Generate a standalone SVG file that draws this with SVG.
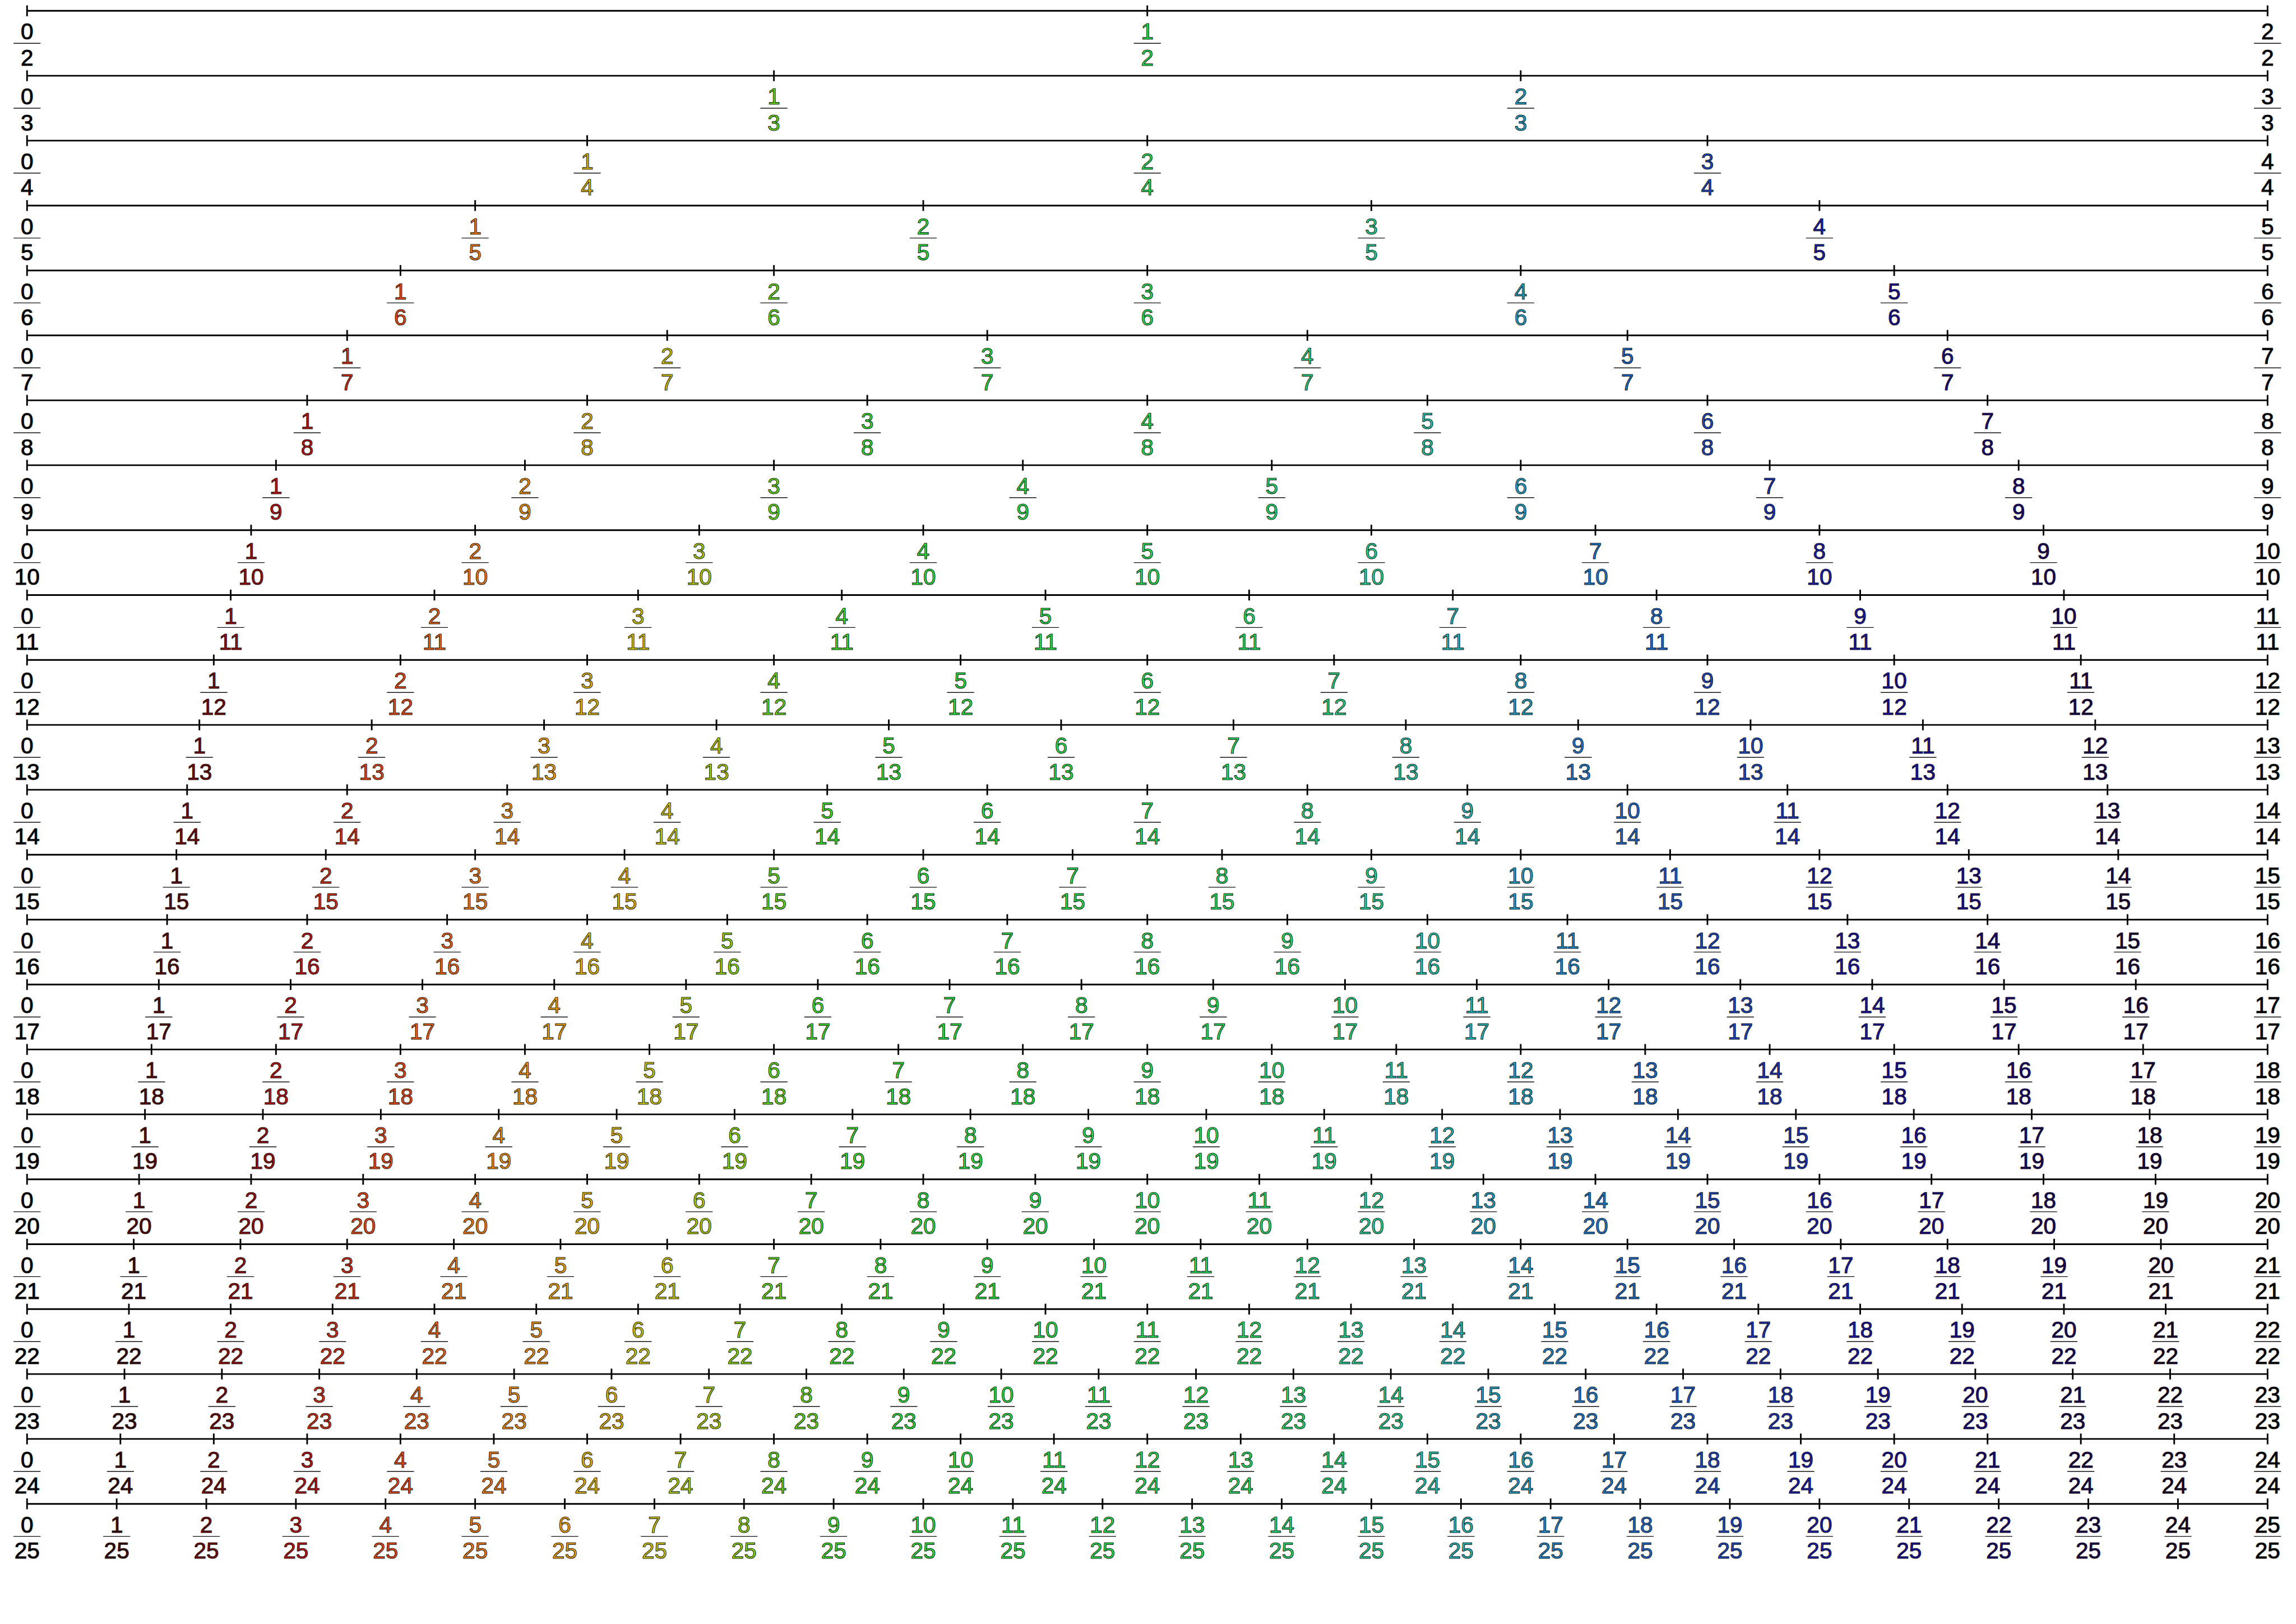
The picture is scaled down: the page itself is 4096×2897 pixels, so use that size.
<svg xmlns="http://www.w3.org/2000/svg" width="4096" height="2897" viewBox="0 0 4096 2897">
<style>
text{font-family:"Liberation Sans",Arial,sans-serif;font-size:42px;text-anchor:middle;stroke:#000;stroke-width:1.2;stroke-opacity:.85}
.ax{stroke:#000;stroke-width:3}
.c0{fill:#000}.c1{fill:#1e0505}.c2{fill:#3c0a0a}.c3{fill:#5a0a0a}.c4{fill:#780a0a}.c5{fill:#9c0f0f}.c6{fill:#c01414}.c7{fill:#d82f14}.c8{fill:#f04a14}.c9{fill:#f26414}
.c10{fill:#f57d14}.c11{fill:#f5910f}.c12{fill:#f5a50a}.c13{fill:#e4b90a}.c14{fill:#d2cd0a}.c15{fill:#afd40a}.c16{fill:#8cdc0a}.c17{fill:#64e119}.c18{fill:#3ce628}.c19{fill:#32e632}
.c20{fill:#28e63c}.c21{fill:#26e641}.c22{fill:#23e646}.c23{fill:#23e64b}.c24{fill:#23e650}.c25{fill:#23e655}.c26{fill:#23e65a}.c27{fill:#23e464}.c28{fill:#23e16e}.c29{fill:#23dc82}
.c30{fill:#23d796}.c31{fill:#23cbaa}.c32{fill:#23bebe}.c33{fill:#21a5c8}.c34{fill:#1e8cd2}.c35{fill:#1e7dd2}.c36{fill:#1e6ed2}.c37{fill:#1e5dcb}.c38{fill:#1e4bc3}.c39{fill:#1e35b9}
.c40{fill:#1e1eaf}.c41{fill:#1e17a5}.c42{fill:#1e0f9b}.c43{fill:#1e0a8a}.c44{fill:#1e0578}.c45{fill:#1e0564}.c46{fill:#1e0550}.c47{fill:#1e053c}.c48{fill:#1e0528}.c49{fill:#0f0314}.c50{fill:#000}
</style>
<defs>
<g id="m"><line x1="0" y1="-10" x2="0" y2="10" stroke="#000" stroke-width="3"/><line x1="-25" y1="60" x2="25" y2="60" stroke="#111" stroke-width="1.5"/></g>
</defs>
<rect width="4096" height="2897" fill="#fff"/>
<g transform="scale(0.965)">
<g id="axes">
<line class="ax" x1="50" y1="20" x2="4192" y2="20"/>
<line class="ax" x1="50" y1="140" x2="4192" y2="140"/>
<line class="ax" x1="50" y1="260" x2="4192" y2="260"/>
<line class="ax" x1="50" y1="380" x2="4192" y2="380"/>
<line class="ax" x1="50" y1="500" x2="4192" y2="500"/>
<line class="ax" x1="50" y1="620" x2="4192" y2="620"/>
<line class="ax" x1="50" y1="740" x2="4192" y2="740"/>
<line class="ax" x1="50" y1="860" x2="4192" y2="860"/>
<line class="ax" x1="50" y1="980" x2="4192" y2="980"/>
<line class="ax" x1="50" y1="1100" x2="4192" y2="1100"/>
<line class="ax" x1="50" y1="1220" x2="4192" y2="1220"/>
<line class="ax" x1="50" y1="1340" x2="4192" y2="1340"/>
<line class="ax" x1="50" y1="1460" x2="4192" y2="1460"/>
<line class="ax" x1="50" y1="1580" x2="4192" y2="1580"/>
<line class="ax" x1="50" y1="1700" x2="4192" y2="1700"/>
<line class="ax" x1="50" y1="1820" x2="4192" y2="1820"/>
<line class="ax" x1="50" y1="1940" x2="4192" y2="1940"/>
<line class="ax" x1="50" y1="2060" x2="4192" y2="2060"/>
<line class="ax" x1="50" y1="2180" x2="4192" y2="2180"/>
<line class="ax" x1="50" y1="2300" x2="4192" y2="2300"/>
<line class="ax" x1="50" y1="2420" x2="4192" y2="2420"/>
<line class="ax" x1="50" y1="2540" x2="4192" y2="2540"/>
<line class="ax" x1="50" y1="2660" x2="4192" y2="2660"/>
<line class="ax" x1="50" y1="2780" x2="4192" y2="2780"/>
</g>
<g id="row-2" transform="translate(0,20)">
<g class="c0" transform="translate(50)"><use href="#m"/><text y="53">0</text><text y="101">2</text></g>
<g class="c25" transform="translate(2121)"><use href="#m"/><text y="53">1</text><text y="101">2</text></g>
<g class="c50" transform="translate(4192)"><use href="#m"/><text y="53">2</text><text y="101">2</text></g>
</g>
<g id="row-3" transform="translate(0,140)">
<g class="c0" transform="translate(50)"><use href="#m"/><text y="53">0</text><text y="101">3</text></g>
<g class="c17" transform="translate(1430.7)"><use href="#m"/><text y="53">1</text><text y="101">3</text></g>
<g class="c33" transform="translate(2811.3)"><use href="#m"/><text y="53">2</text><text y="101">3</text></g>
<g class="c50" transform="translate(4192)"><use href="#m"/><text y="53">3</text><text y="101">3</text></g>
</g>
<g id="row-4" transform="translate(0,260)">
<g class="c0" transform="translate(50)"><use href="#m"/><text y="53">0</text><text y="101">4</text></g>
<g class="c13" transform="translate(1085.5)"><use href="#m"/><text y="53">1</text><text y="101">4</text></g>
<g class="c25" transform="translate(2121)"><use href="#m"/><text y="53">2</text><text y="101">4</text></g>
<g class="c38" transform="translate(3156.5)"><use href="#m"/><text y="53">3</text><text y="101">4</text></g>
<g class="c50" transform="translate(4192)"><use href="#m"/><text y="53">4</text><text y="101">4</text></g>
</g>
<g id="row-5" transform="translate(0,380)">
<g class="c0" transform="translate(50)"><use href="#m"/><text y="53">0</text><text y="101">5</text></g>
<g class="c10" transform="translate(878.4)"><use href="#m"/><text y="53">1</text><text y="101">5</text></g>
<g class="c20" transform="translate(1706.8)"><use href="#m"/><text y="53">2</text><text y="101">5</text></g>
<g class="c30" transform="translate(2535.2)"><use href="#m"/><text y="53">3</text><text y="101">5</text></g>
<g class="c40" transform="translate(3363.6)"><use href="#m"/><text y="53">4</text><text y="101">5</text></g>
<g class="c50" transform="translate(4192)"><use href="#m"/><text y="53">5</text><text y="101">5</text></g>
</g>
<g id="row-6" transform="translate(0,500)">
<g class="c0" transform="translate(50)"><use href="#m"/><text y="53">0</text><text y="101">6</text></g>
<g class="c8" transform="translate(740.3)"><use href="#m"/><text y="53">1</text><text y="101">6</text></g>
<g class="c17" transform="translate(1430.7)"><use href="#m"/><text y="53">2</text><text y="101">6</text></g>
<g class="c25" transform="translate(2121)"><use href="#m"/><text y="53">3</text><text y="101">6</text></g>
<g class="c33" transform="translate(2811.3)"><use href="#m"/><text y="53">4</text><text y="101">6</text></g>
<g class="c42" transform="translate(3501.7)"><use href="#m"/><text y="53">5</text><text y="101">6</text></g>
<g class="c50" transform="translate(4192)"><use href="#m"/><text y="53">6</text><text y="101">6</text></g>
</g>
<g id="row-7" transform="translate(0,620)">
<g class="c0" transform="translate(50)"><use href="#m"/><text y="53">0</text><text y="101">7</text></g>
<g class="c7" transform="translate(641.7)"><use href="#m"/><text y="53">1</text><text y="101">7</text></g>
<g class="c14" transform="translate(1233.4)"><use href="#m"/><text y="53">2</text><text y="101">7</text></g>
<g class="c21" transform="translate(1825.1)"><use href="#m"/><text y="53">3</text><text y="101">7</text></g>
<g class="c29" transform="translate(2416.9)"><use href="#m"/><text y="53">4</text><text y="101">7</text></g>
<g class="c36" transform="translate(3008.6)"><use href="#m"/><text y="53">5</text><text y="101">7</text></g>
<g class="c43" transform="translate(3600.3)"><use href="#m"/><text y="53">6</text><text y="101">7</text></g>
<g class="c50" transform="translate(4192)"><use href="#m"/><text y="53">7</text><text y="101">7</text></g>
</g>
<g id="row-8" transform="translate(0,740)">
<g class="c0" transform="translate(50)"><use href="#m"/><text y="53">0</text><text y="101">8</text></g>
<g class="c6" transform="translate(567.8)"><use href="#m"/><text y="53">1</text><text y="101">8</text></g>
<g class="c13" transform="translate(1085.5)"><use href="#m"/><text y="53">2</text><text y="101">8</text></g>
<g class="c19" transform="translate(1603.3)"><use href="#m"/><text y="53">3</text><text y="101">8</text></g>
<g class="c25" transform="translate(2121)"><use href="#m"/><text y="53">4</text><text y="101">8</text></g>
<g class="c31" transform="translate(2638.8)"><use href="#m"/><text y="53">5</text><text y="101">8</text></g>
<g class="c38" transform="translate(3156.5)"><use href="#m"/><text y="53">6</text><text y="101">8</text></g>
<g class="c44" transform="translate(3674.3)"><use href="#m"/><text y="53">7</text><text y="101">8</text></g>
<g class="c50" transform="translate(4192)"><use href="#m"/><text y="53">8</text><text y="101">8</text></g>
</g>
<g id="row-9" transform="translate(0,860)">
<g class="c0" transform="translate(50)"><use href="#m"/><text y="53">0</text><text y="101">9</text></g>
<g class="c6" transform="translate(510.2)"><use href="#m"/><text y="53">1</text><text y="101">9</text></g>
<g class="c11" transform="translate(970.4)"><use href="#m"/><text y="53">2</text><text y="101">9</text></g>
<g class="c17" transform="translate(1430.7)"><use href="#m"/><text y="53">3</text><text y="101">9</text></g>
<g class="c22" transform="translate(1890.9)"><use href="#m"/><text y="53">4</text><text y="101">9</text></g>
<g class="c28" transform="translate(2351.1)"><use href="#m"/><text y="53">5</text><text y="101">9</text></g>
<g class="c33" transform="translate(2811.3)"><use href="#m"/><text y="53">6</text><text y="101">9</text></g>
<g class="c39" transform="translate(3271.6)"><use href="#m"/><text y="53">7</text><text y="101">9</text></g>
<g class="c44" transform="translate(3731.8)"><use href="#m"/><text y="53">8</text><text y="101">9</text></g>
<g class="c50" transform="translate(4192)"><use href="#m"/><text y="53">9</text><text y="101">9</text></g>
</g>
<g id="row-10" transform="translate(0,980)">
<g class="c0" transform="translate(50)"><use href="#m"/><text y="53">0</text><text y="101">10</text></g>
<g class="c5" transform="translate(464.2)"><use href="#m"/><text y="53">1</text><text y="101">10</text></g>
<g class="c10" transform="translate(878.4)"><use href="#m"/><text y="53">2</text><text y="101">10</text></g>
<g class="c15" transform="translate(1292.6)"><use href="#m"/><text y="53">3</text><text y="101">10</text></g>
<g class="c20" transform="translate(1706.8)"><use href="#m"/><text y="53">4</text><text y="101">10</text></g>
<g class="c25" transform="translate(2121)"><use href="#m"/><text y="53">5</text><text y="101">10</text></g>
<g class="c30" transform="translate(2535.2)"><use href="#m"/><text y="53">6</text><text y="101">10</text></g>
<g class="c35" transform="translate(2949.4)"><use href="#m"/><text y="53">7</text><text y="101">10</text></g>
<g class="c40" transform="translate(3363.6)"><use href="#m"/><text y="53">8</text><text y="101">10</text></g>
<g class="c45" transform="translate(3777.8)"><use href="#m"/><text y="53">9</text><text y="101">10</text></g>
<g class="c50" transform="translate(4192)"><use href="#m"/><text y="53">10</text><text y="101">10</text></g>
</g>
<g id="row-11" transform="translate(0,1100)">
<g class="c0" transform="translate(50)"><use href="#m"/><text y="53">0</text><text y="101">11</text></g>
<g class="c5" transform="translate(426.5)"><use href="#m"/><text y="53">1</text><text y="101">11</text></g>
<g class="c9" transform="translate(803.1)"><use href="#m"/><text y="53">2</text><text y="101">11</text></g>
<g class="c14" transform="translate(1179.6)"><use href="#m"/><text y="53">3</text><text y="101">11</text></g>
<g class="c18" transform="translate(1556.2)"><use href="#m"/><text y="53">4</text><text y="101">11</text></g>
<g class="c23" transform="translate(1932.7)"><use href="#m"/><text y="53">5</text><text y="101">11</text></g>
<g class="c27" transform="translate(2309.3)"><use href="#m"/><text y="53">6</text><text y="101">11</text></g>
<g class="c32" transform="translate(2685.8)"><use href="#m"/><text y="53">7</text><text y="101">11</text></g>
<g class="c36" transform="translate(3062.4)"><use href="#m"/><text y="53">8</text><text y="101">11</text></g>
<g class="c41" transform="translate(3438.9)"><use href="#m"/><text y="53">9</text><text y="101">11</text></g>
<g class="c45" transform="translate(3815.5)"><use href="#m"/><text y="53">10</text><text y="101">11</text></g>
<g class="c50" transform="translate(4192)"><use href="#m"/><text y="53">11</text><text y="101">11</text></g>
</g>
<g id="row-12" transform="translate(0,1220)">
<g class="c0" transform="translate(50)"><use href="#m"/><text y="53">0</text><text y="101">12</text></g>
<g class="c4" transform="translate(395.2)"><use href="#m"/><text y="53">1</text><text y="101">12</text></g>
<g class="c8" transform="translate(740.3)"><use href="#m"/><text y="53">2</text><text y="101">12</text></g>
<g class="c13" transform="translate(1085.5)"><use href="#m"/><text y="53">3</text><text y="101">12</text></g>
<g class="c17" transform="translate(1430.7)"><use href="#m"/><text y="53">4</text><text y="101">12</text></g>
<g class="c21" transform="translate(1775.8)"><use href="#m"/><text y="53">5</text><text y="101">12</text></g>
<g class="c25" transform="translate(2121)"><use href="#m"/><text y="53">6</text><text y="101">12</text></g>
<g class="c29" transform="translate(2466.2)"><use href="#m"/><text y="53">7</text><text y="101">12</text></g>
<g class="c33" transform="translate(2811.3)"><use href="#m"/><text y="53">8</text><text y="101">12</text></g>
<g class="c38" transform="translate(3156.5)"><use href="#m"/><text y="53">9</text><text y="101">12</text></g>
<g class="c42" transform="translate(3501.7)"><use href="#m"/><text y="53">10</text><text y="101">12</text></g>
<g class="c46" transform="translate(3846.8)"><use href="#m"/><text y="53">11</text><text y="101">12</text></g>
<g class="c50" transform="translate(4192)"><use href="#m"/><text y="53">12</text><text y="101">12</text></g>
</g>
<g id="row-13" transform="translate(0,1340)">
<g class="c0" transform="translate(50)"><use href="#m"/><text y="53">0</text><text y="101">13</text></g>
<g class="c4" transform="translate(368.6)"><use href="#m"/><text y="53">1</text><text y="101">13</text></g>
<g class="c8" transform="translate(687.2)"><use href="#m"/><text y="53">2</text><text y="101">13</text></g>
<g class="c12" transform="translate(1005.8)"><use href="#m"/><text y="53">3</text><text y="101">13</text></g>
<g class="c15" transform="translate(1324.5)"><use href="#m"/><text y="53">4</text><text y="101">13</text></g>
<g class="c19" transform="translate(1643.1)"><use href="#m"/><text y="53">5</text><text y="101">13</text></g>
<g class="c23" transform="translate(1961.7)"><use href="#m"/><text y="53">6</text><text y="101">13</text></g>
<g class="c27" transform="translate(2280.3)"><use href="#m"/><text y="53">7</text><text y="101">13</text></g>
<g class="c31" transform="translate(2598.9)"><use href="#m"/><text y="53">8</text><text y="101">13</text></g>
<g class="c35" transform="translate(2917.5)"><use href="#m"/><text y="53">9</text><text y="101">13</text></g>
<g class="c38" transform="translate(3236.2)"><use href="#m"/><text y="53">10</text><text y="101">13</text></g>
<g class="c42" transform="translate(3554.8)"><use href="#m"/><text y="53">11</text><text y="101">13</text></g>
<g class="c46" transform="translate(3873.4)"><use href="#m"/><text y="53">12</text><text y="101">13</text></g>
<g class="c50" transform="translate(4192)"><use href="#m"/><text y="53">13</text><text y="101">13</text></g>
</g>
<g id="row-14" transform="translate(0,1460)">
<g class="c0" transform="translate(50)"><use href="#m"/><text y="53">0</text><text y="101">14</text></g>
<g class="c4" transform="translate(345.9)"><use href="#m"/><text y="53">1</text><text y="101">14</text></g>
<g class="c7" transform="translate(641.7)"><use href="#m"/><text y="53">2</text><text y="101">14</text></g>
<g class="c11" transform="translate(937.6)"><use href="#m"/><text y="53">3</text><text y="101">14</text></g>
<g class="c14" transform="translate(1233.4)"><use href="#m"/><text y="53">4</text><text y="101">14</text></g>
<g class="c18" transform="translate(1529.3)"><use href="#m"/><text y="53">5</text><text y="101">14</text></g>
<g class="c21" transform="translate(1825.1)"><use href="#m"/><text y="53">6</text><text y="101">14</text></g>
<g class="c25" transform="translate(2121)"><use href="#m"/><text y="53">7</text><text y="101">14</text></g>
<g class="c29" transform="translate(2416.9)"><use href="#m"/><text y="53">8</text><text y="101">14</text></g>
<g class="c32" transform="translate(2712.7)"><use href="#m"/><text y="53">9</text><text y="101">14</text></g>
<g class="c36" transform="translate(3008.6)"><use href="#m"/><text y="53">10</text><text y="101">14</text></g>
<g class="c39" transform="translate(3304.4)"><use href="#m"/><text y="53">11</text><text y="101">14</text></g>
<g class="c43" transform="translate(3600.3)"><use href="#m"/><text y="53">12</text><text y="101">14</text></g>
<g class="c46" transform="translate(3896.1)"><use href="#m"/><text y="53">13</text><text y="101">14</text></g>
<g class="c50" transform="translate(4192)"><use href="#m"/><text y="53">14</text><text y="101">14</text></g>
</g>
<g id="row-15" transform="translate(0,1580)">
<g class="c0" transform="translate(50)"><use href="#m"/><text y="53">0</text><text y="101">15</text></g>
<g class="c3" transform="translate(326.1)"><use href="#m"/><text y="53">1</text><text y="101">15</text></g>
<g class="c7" transform="translate(602.3)"><use href="#m"/><text y="53">2</text><text y="101">15</text></g>
<g class="c10" transform="translate(878.4)"><use href="#m"/><text y="53">3</text><text y="101">15</text></g>
<g class="c13" transform="translate(1154.5)"><use href="#m"/><text y="53">4</text><text y="101">15</text></g>
<g class="c17" transform="translate(1430.7)"><use href="#m"/><text y="53">5</text><text y="101">15</text></g>
<g class="c20" transform="translate(1706.8)"><use href="#m"/><text y="53">6</text><text y="101">15</text></g>
<g class="c23" transform="translate(1982.9)"><use href="#m"/><text y="53">7</text><text y="101">15</text></g>
<g class="c27" transform="translate(2259.1)"><use href="#m"/><text y="53">8</text><text y="101">15</text></g>
<g class="c30" transform="translate(2535.2)"><use href="#m"/><text y="53">9</text><text y="101">15</text></g>
<g class="c33" transform="translate(2811.3)"><use href="#m"/><text y="53">10</text><text y="101">15</text></g>
<g class="c37" transform="translate(3087.5)"><use href="#m"/><text y="53">11</text><text y="101">15</text></g>
<g class="c40" transform="translate(3363.6)"><use href="#m"/><text y="53">12</text><text y="101">15</text></g>
<g class="c43" transform="translate(3639.7)"><use href="#m"/><text y="53">13</text><text y="101">15</text></g>
<g class="c47" transform="translate(3915.9)"><use href="#m"/><text y="53">14</text><text y="101">15</text></g>
<g class="c50" transform="translate(4192)"><use href="#m"/><text y="53">15</text><text y="101">15</text></g>
</g>
<g id="row-16" transform="translate(0,1700)">
<g class="c0" transform="translate(50)"><use href="#m"/><text y="53">0</text><text y="101">16</text></g>
<g class="c3" transform="translate(308.9)"><use href="#m"/><text y="53">1</text><text y="101">16</text></g>
<g class="c6" transform="translate(567.8)"><use href="#m"/><text y="53">2</text><text y="101">16</text></g>
<g class="c9" transform="translate(826.6)"><use href="#m"/><text y="53">3</text><text y="101">16</text></g>
<g class="c13" transform="translate(1085.5)"><use href="#m"/><text y="53">4</text><text y="101">16</text></g>
<g class="c16" transform="translate(1344.4)"><use href="#m"/><text y="53">5</text><text y="101">16</text></g>
<g class="c19" transform="translate(1603.3)"><use href="#m"/><text y="53">6</text><text y="101">16</text></g>
<g class="c22" transform="translate(1862.1)"><use href="#m"/><text y="53">7</text><text y="101">16</text></g>
<g class="c25" transform="translate(2121)"><use href="#m"/><text y="53">8</text><text y="101">16</text></g>
<g class="c28" transform="translate(2379.9)"><use href="#m"/><text y="53">9</text><text y="101">16</text></g>
<g class="c31" transform="translate(2638.8)"><use href="#m"/><text y="53">10</text><text y="101">16</text></g>
<g class="c34" transform="translate(2897.6)"><use href="#m"/><text y="53">11</text><text y="101">16</text></g>
<g class="c38" transform="translate(3156.5)"><use href="#m"/><text y="53">12</text><text y="101">16</text></g>
<g class="c41" transform="translate(3415.4)"><use href="#m"/><text y="53">13</text><text y="101">16</text></g>
<g class="c44" transform="translate(3674.3)"><use href="#m"/><text y="53">14</text><text y="101">16</text></g>
<g class="c47" transform="translate(3933.1)"><use href="#m"/><text y="53">15</text><text y="101">16</text></g>
<g class="c50" transform="translate(4192)"><use href="#m"/><text y="53">16</text><text y="101">16</text></g>
</g>
<g id="row-17" transform="translate(0,1820)">
<g class="c0" transform="translate(50)"><use href="#m"/><text y="53">0</text><text y="101">17</text></g>
<g class="c3" transform="translate(293.6)"><use href="#m"/><text y="53">1</text><text y="101">17</text></g>
<g class="c6" transform="translate(537.3)"><use href="#m"/><text y="53">2</text><text y="101">17</text></g>
<g class="c9" transform="translate(780.9)"><use href="#m"/><text y="53">3</text><text y="101">17</text></g>
<g class="c12" transform="translate(1024.6)"><use href="#m"/><text y="53">4</text><text y="101">17</text></g>
<g class="c15" transform="translate(1268.2)"><use href="#m"/><text y="53">5</text><text y="101">17</text></g>
<g class="c18" transform="translate(1511.9)"><use href="#m"/><text y="53">6</text><text y="101">17</text></g>
<g class="c21" transform="translate(1755.5)"><use href="#m"/><text y="53">7</text><text y="101">17</text></g>
<g class="c24" transform="translate(1999.2)"><use href="#m"/><text y="53">8</text><text y="101">17</text></g>
<g class="c26" transform="translate(2242.8)"><use href="#m"/><text y="53">9</text><text y="101">17</text></g>
<g class="c29" transform="translate(2486.5)"><use href="#m"/><text y="53">10</text><text y="101">17</text></g>
<g class="c32" transform="translate(2730.1)"><use href="#m"/><text y="53">11</text><text y="101">17</text></g>
<g class="c35" transform="translate(2973.8)"><use href="#m"/><text y="53">12</text><text y="101">17</text></g>
<g class="c38" transform="translate(3217.4)"><use href="#m"/><text y="53">13</text><text y="101">17</text></g>
<g class="c41" transform="translate(3461.1)"><use href="#m"/><text y="53">14</text><text y="101">17</text></g>
<g class="c44" transform="translate(3704.7)"><use href="#m"/><text y="53">15</text><text y="101">17</text></g>
<g class="c47" transform="translate(3948.4)"><use href="#m"/><text y="53">16</text><text y="101">17</text></g>
<g class="c50" transform="translate(4192)"><use href="#m"/><text y="53">17</text><text y="101">17</text></g>
</g>
<g id="row-18" transform="translate(0,1940)">
<g class="c0" transform="translate(50)"><use href="#m"/><text y="53">0</text><text y="101">18</text></g>
<g class="c3" transform="translate(280.1)"><use href="#m"/><text y="53">1</text><text y="101">18</text></g>
<g class="c6" transform="translate(510.2)"><use href="#m"/><text y="53">2</text><text y="101">18</text></g>
<g class="c8" transform="translate(740.3)"><use href="#m"/><text y="53">3</text><text y="101">18</text></g>
<g class="c11" transform="translate(970.4)"><use href="#m"/><text y="53">4</text><text y="101">18</text></g>
<g class="c14" transform="translate(1200.6)"><use href="#m"/><text y="53">5</text><text y="101">18</text></g>
<g class="c17" transform="translate(1430.7)"><use href="#m"/><text y="53">6</text><text y="101">18</text></g>
<g class="c19" transform="translate(1660.8)"><use href="#m"/><text y="53">7</text><text y="101">18</text></g>
<g class="c22" transform="translate(1890.9)"><use href="#m"/><text y="53">8</text><text y="101">18</text></g>
<g class="c25" transform="translate(2121)"><use href="#m"/><text y="53">9</text><text y="101">18</text></g>
<g class="c28" transform="translate(2351.1)"><use href="#m"/><text y="53">10</text><text y="101">18</text></g>
<g class="c31" transform="translate(2581.2)"><use href="#m"/><text y="53">11</text><text y="101">18</text></g>
<g class="c33" transform="translate(2811.3)"><use href="#m"/><text y="53">12</text><text y="101">18</text></g>
<g class="c36" transform="translate(3041.4)"><use href="#m"/><text y="53">13</text><text y="101">18</text></g>
<g class="c39" transform="translate(3271.6)"><use href="#m"/><text y="53">14</text><text y="101">18</text></g>
<g class="c42" transform="translate(3501.7)"><use href="#m"/><text y="53">15</text><text y="101">18</text></g>
<g class="c44" transform="translate(3731.8)"><use href="#m"/><text y="53">16</text><text y="101">18</text></g>
<g class="c47" transform="translate(3961.9)"><use href="#m"/><text y="53">17</text><text y="101">18</text></g>
<g class="c50" transform="translate(4192)"><use href="#m"/><text y="53">18</text><text y="101">18</text></g>
</g>
<g id="row-19" transform="translate(0,2060)">
<g class="c0" transform="translate(50)"><use href="#m"/><text y="53">0</text><text y="101">19</text></g>
<g class="c3" transform="translate(268)"><use href="#m"/><text y="53">1</text><text y="101">19</text></g>
<g class="c5" transform="translate(486)"><use href="#m"/><text y="53">2</text><text y="101">19</text></g>
<g class="c8" transform="translate(704)"><use href="#m"/><text y="53">3</text><text y="101">19</text></g>
<g class="c11" transform="translate(922)"><use href="#m"/><text y="53">4</text><text y="101">19</text></g>
<g class="c13" transform="translate(1140)"><use href="#m"/><text y="53">5</text><text y="101">19</text></g>
<g class="c16" transform="translate(1358)"><use href="#m"/><text y="53">6</text><text y="101">19</text></g>
<g class="c18" transform="translate(1576)"><use href="#m"/><text y="53">7</text><text y="101">19</text></g>
<g class="c21" transform="translate(1794)"><use href="#m"/><text y="53">8</text><text y="101">19</text></g>
<g class="c24" transform="translate(2012)"><use href="#m"/><text y="53">9</text><text y="101">19</text></g>
<g class="c26" transform="translate(2230)"><use href="#m"/><text y="53">10</text><text y="101">19</text></g>
<g class="c29" transform="translate(2448)"><use href="#m"/><text y="53">11</text><text y="101">19</text></g>
<g class="c32" transform="translate(2666)"><use href="#m"/><text y="53">12</text><text y="101">19</text></g>
<g class="c34" transform="translate(2884)"><use href="#m"/><text y="53">13</text><text y="101">19</text></g>
<g class="c37" transform="translate(3102)"><use href="#m"/><text y="53">14</text><text y="101">19</text></g>
<g class="c39" transform="translate(3320)"><use href="#m"/><text y="53">15</text><text y="101">19</text></g>
<g class="c42" transform="translate(3538)"><use href="#m"/><text y="53">16</text><text y="101">19</text></g>
<g class="c45" transform="translate(3756)"><use href="#m"/><text y="53">17</text><text y="101">19</text></g>
<g class="c47" transform="translate(3974)"><use href="#m"/><text y="53">18</text><text y="101">19</text></g>
<g class="c50" transform="translate(4192)"><use href="#m"/><text y="53">19</text><text y="101">19</text></g>
</g>
<g id="row-20" transform="translate(0,2180)">
<g class="c0" transform="translate(50)"><use href="#m"/><text y="53">0</text><text y="101">20</text></g>
<g class="c3" transform="translate(257.1)"><use href="#m"/><text y="53">1</text><text y="101">20</text></g>
<g class="c5" transform="translate(464.2)"><use href="#m"/><text y="53">2</text><text y="101">20</text></g>
<g class="c8" transform="translate(671.3)"><use href="#m"/><text y="53">3</text><text y="101">20</text></g>
<g class="c10" transform="translate(878.4)"><use href="#m"/><text y="53">4</text><text y="101">20</text></g>
<g class="c13" transform="translate(1085.5)"><use href="#m"/><text y="53">5</text><text y="101">20</text></g>
<g class="c15" transform="translate(1292.6)"><use href="#m"/><text y="53">6</text><text y="101">20</text></g>
<g class="c18" transform="translate(1499.7)"><use href="#m"/><text y="53">7</text><text y="101">20</text></g>
<g class="c20" transform="translate(1706.8)"><use href="#m"/><text y="53">8</text><text y="101">20</text></g>
<g class="c23" transform="translate(1913.9)"><use href="#m"/><text y="53">9</text><text y="101">20</text></g>
<g class="c25" transform="translate(2121)"><use href="#m"/><text y="53">10</text><text y="101">20</text></g>
<g class="c28" transform="translate(2328.1)"><use href="#m"/><text y="53">11</text><text y="101">20</text></g>
<g class="c30" transform="translate(2535.2)"><use href="#m"/><text y="53">12</text><text y="101">20</text></g>
<g class="c33" transform="translate(2742.3)"><use href="#m"/><text y="53">13</text><text y="101">20</text></g>
<g class="c35" transform="translate(2949.4)"><use href="#m"/><text y="53">14</text><text y="101">20</text></g>
<g class="c38" transform="translate(3156.5)"><use href="#m"/><text y="53">15</text><text y="101">20</text></g>
<g class="c40" transform="translate(3363.6)"><use href="#m"/><text y="53">16</text><text y="101">20</text></g>
<g class="c43" transform="translate(3570.7)"><use href="#m"/><text y="53">17</text><text y="101">20</text></g>
<g class="c45" transform="translate(3777.8)"><use href="#m"/><text y="53">18</text><text y="101">20</text></g>
<g class="c48" transform="translate(3984.9)"><use href="#m"/><text y="53">19</text><text y="101">20</text></g>
<g class="c50" transform="translate(4192)"><use href="#m"/><text y="53">20</text><text y="101">20</text></g>
</g>
<g id="row-21" transform="translate(0,2300)">
<g class="c0" transform="translate(50)"><use href="#m"/><text y="53">0</text><text y="101">21</text></g>
<g class="c2" transform="translate(247.2)"><use href="#m"/><text y="53">1</text><text y="101">21</text></g>
<g class="c5" transform="translate(444.5)"><use href="#m"/><text y="53">2</text><text y="101">21</text></g>
<g class="c7" transform="translate(641.7)"><use href="#m"/><text y="53">3</text><text y="101">21</text></g>
<g class="c10" transform="translate(839)"><use href="#m"/><text y="53">4</text><text y="101">21</text></g>
<g class="c12" transform="translate(1036.2)"><use href="#m"/><text y="53">5</text><text y="101">21</text></g>
<g class="c14" transform="translate(1233.4)"><use href="#m"/><text y="53">6</text><text y="101">21</text></g>
<g class="c17" transform="translate(1430.7)"><use href="#m"/><text y="53">7</text><text y="101">21</text></g>
<g class="c19" transform="translate(1627.9)"><use href="#m"/><text y="53">8</text><text y="101">21</text></g>
<g class="c21" transform="translate(1825.1)"><use href="#m"/><text y="53">9</text><text y="101">21</text></g>
<g class="c24" transform="translate(2022.4)"><use href="#m"/><text y="53">10</text><text y="101">21</text></g>
<g class="c26" transform="translate(2219.6)"><use href="#m"/><text y="53">11</text><text y="101">21</text></g>
<g class="c29" transform="translate(2416.9)"><use href="#m"/><text y="53">12</text><text y="101">21</text></g>
<g class="c31" transform="translate(2614.1)"><use href="#m"/><text y="53">13</text><text y="101">21</text></g>
<g class="c33" transform="translate(2811.3)"><use href="#m"/><text y="53">14</text><text y="101">21</text></g>
<g class="c36" transform="translate(3008.6)"><use href="#m"/><text y="53">15</text><text y="101">21</text></g>
<g class="c38" transform="translate(3205.8)"><use href="#m"/><text y="53">16</text><text y="101">21</text></g>
<g class="c40" transform="translate(3403)"><use href="#m"/><text y="53">17</text><text y="101">21</text></g>
<g class="c43" transform="translate(3600.3)"><use href="#m"/><text y="53">18</text><text y="101">21</text></g>
<g class="c45" transform="translate(3797.5)"><use href="#m"/><text y="53">19</text><text y="101">21</text></g>
<g class="c48" transform="translate(3994.8)"><use href="#m"/><text y="53">20</text><text y="101">21</text></g>
<g class="c50" transform="translate(4192)"><use href="#m"/><text y="53">21</text><text y="101">21</text></g>
</g>
<g id="row-22" transform="translate(0,2420)">
<g class="c0" transform="translate(50)"><use href="#m"/><text y="53">0</text><text y="101">22</text></g>
<g class="c2" transform="translate(238.3)"><use href="#m"/><text y="53">1</text><text y="101">22</text></g>
<g class="c5" transform="translate(426.5)"><use href="#m"/><text y="53">2</text><text y="101">22</text></g>
<g class="c7" transform="translate(614.8)"><use href="#m"/><text y="53">3</text><text y="101">22</text></g>
<g class="c9" transform="translate(803.1)"><use href="#m"/><text y="53">4</text><text y="101">22</text></g>
<g class="c11" transform="translate(991.4)"><use href="#m"/><text y="53">5</text><text y="101">22</text></g>
<g class="c14" transform="translate(1179.6)"><use href="#m"/><text y="53">6</text><text y="101">22</text></g>
<g class="c16" transform="translate(1367.9)"><use href="#m"/><text y="53">7</text><text y="101">22</text></g>
<g class="c18" transform="translate(1556.2)"><use href="#m"/><text y="53">8</text><text y="101">22</text></g>
<g class="c20" transform="translate(1744.5)"><use href="#m"/><text y="53">9</text><text y="101">22</text></g>
<g class="c23" transform="translate(1932.7)"><use href="#m"/><text y="53">10</text><text y="101">22</text></g>
<g class="c25" transform="translate(2121)"><use href="#m"/><text y="53">11</text><text y="101">22</text></g>
<g class="c27" transform="translate(2309.3)"><use href="#m"/><text y="53">12</text><text y="101">22</text></g>
<g class="c30" transform="translate(2497.5)"><use href="#m"/><text y="53">13</text><text y="101">22</text></g>
<g class="c32" transform="translate(2685.8)"><use href="#m"/><text y="53">14</text><text y="101">22</text></g>
<g class="c34" transform="translate(2874.1)"><use href="#m"/><text y="53">15</text><text y="101">22</text></g>
<g class="c36" transform="translate(3062.4)"><use href="#m"/><text y="53">16</text><text y="101">22</text></g>
<g class="c39" transform="translate(3250.6)"><use href="#m"/><text y="53">17</text><text y="101">22</text></g>
<g class="c41" transform="translate(3438.9)"><use href="#m"/><text y="53">18</text><text y="101">22</text></g>
<g class="c43" transform="translate(3627.2)"><use href="#m"/><text y="53">19</text><text y="101">22</text></g>
<g class="c45" transform="translate(3815.5)"><use href="#m"/><text y="53">20</text><text y="101">22</text></g>
<g class="c48" transform="translate(4003.7)"><use href="#m"/><text y="53">21</text><text y="101">22</text></g>
<g class="c50" transform="translate(4192)"><use href="#m"/><text y="53">22</text><text y="101">22</text></g>
</g>
<g id="row-23" transform="translate(0,2540)">
<g class="c0" transform="translate(50)"><use href="#m"/><text y="53">0</text><text y="101">23</text></g>
<g class="c2" transform="translate(230.1)"><use href="#m"/><text y="53">1</text><text y="101">23</text></g>
<g class="c4" transform="translate(410.2)"><use href="#m"/><text y="53">2</text><text y="101">23</text></g>
<g class="c7" transform="translate(590.3)"><use href="#m"/><text y="53">3</text><text y="101">23</text></g>
<g class="c9" transform="translate(770.3)"><use href="#m"/><text y="53">4</text><text y="101">23</text></g>
<g class="c11" transform="translate(950.4)"><use href="#m"/><text y="53">5</text><text y="101">23</text></g>
<g class="c13" transform="translate(1130.5)"><use href="#m"/><text y="53">6</text><text y="101">23</text></g>
<g class="c15" transform="translate(1310.6)"><use href="#m"/><text y="53">7</text><text y="101">23</text></g>
<g class="c17" transform="translate(1490.7)"><use href="#m"/><text y="53">8</text><text y="101">23</text></g>
<g class="c20" transform="translate(1670.8)"><use href="#m"/><text y="53">9</text><text y="101">23</text></g>
<g class="c22" transform="translate(1850.9)"><use href="#m"/><text y="53">10</text><text y="101">23</text></g>
<g class="c24" transform="translate(2031)"><use href="#m"/><text y="53">11</text><text y="101">23</text></g>
<g class="c26" transform="translate(2211)"><use href="#m"/><text y="53">12</text><text y="101">23</text></g>
<g class="c28" transform="translate(2391.1)"><use href="#m"/><text y="53">13</text><text y="101">23</text></g>
<g class="c30" transform="translate(2571.2)"><use href="#m"/><text y="53">14</text><text y="101">23</text></g>
<g class="c33" transform="translate(2751.3)"><use href="#m"/><text y="53">15</text><text y="101">23</text></g>
<g class="c35" transform="translate(2931.4)"><use href="#m"/><text y="53">16</text><text y="101">23</text></g>
<g class="c37" transform="translate(3111.5)"><use href="#m"/><text y="53">17</text><text y="101">23</text></g>
<g class="c39" transform="translate(3291.6)"><use href="#m"/><text y="53">18</text><text y="101">23</text></g>
<g class="c41" transform="translate(3471.7)"><use href="#m"/><text y="53">19</text><text y="101">23</text></g>
<g class="c43" transform="translate(3651.7)"><use href="#m"/><text y="53">20</text><text y="101">23</text></g>
<g class="c46" transform="translate(3831.8)"><use href="#m"/><text y="53">21</text><text y="101">23</text></g>
<g class="c48" transform="translate(4011.9)"><use href="#m"/><text y="53">22</text><text y="101">23</text></g>
<g class="c50" transform="translate(4192)"><use href="#m"/><text y="53">23</text><text y="101">23</text></g>
</g>
<g id="row-24" transform="translate(0,2660)">
<g class="c0" transform="translate(50)"><use href="#m"/><text y="53">0</text><text y="101">24</text></g>
<g class="c2" transform="translate(222.6)"><use href="#m"/><text y="53">1</text><text y="101">24</text></g>
<g class="c4" transform="translate(395.2)"><use href="#m"/><text y="53">2</text><text y="101">24</text></g>
<g class="c6" transform="translate(567.8)"><use href="#m"/><text y="53">3</text><text y="101">24</text></g>
<g class="c8" transform="translate(740.3)"><use href="#m"/><text y="53">4</text><text y="101">24</text></g>
<g class="c10" transform="translate(912.9)"><use href="#m"/><text y="53">5</text><text y="101">24</text></g>
<g class="c13" transform="translate(1085.5)"><use href="#m"/><text y="53">6</text><text y="101">24</text></g>
<g class="c15" transform="translate(1258.1)"><use href="#m"/><text y="53">7</text><text y="101">24</text></g>
<g class="c17" transform="translate(1430.7)"><use href="#m"/><text y="53">8</text><text y="101">24</text></g>
<g class="c19" transform="translate(1603.3)"><use href="#m"/><text y="53">9</text><text y="101">24</text></g>
<g class="c21" transform="translate(1775.8)"><use href="#m"/><text y="53">10</text><text y="101">24</text></g>
<g class="c23" transform="translate(1948.4)"><use href="#m"/><text y="53">11</text><text y="101">24</text></g>
<g class="c25" transform="translate(2121)"><use href="#m"/><text y="53">12</text><text y="101">24</text></g>
<g class="c27" transform="translate(2293.6)"><use href="#m"/><text y="53">13</text><text y="101">24</text></g>
<g class="c29" transform="translate(2466.2)"><use href="#m"/><text y="53">14</text><text y="101">24</text></g>
<g class="c31" transform="translate(2638.8)"><use href="#m"/><text y="53">15</text><text y="101">24</text></g>
<g class="c33" transform="translate(2811.3)"><use href="#m"/><text y="53">16</text><text y="101">24</text></g>
<g class="c35" transform="translate(2983.9)"><use href="#m"/><text y="53">17</text><text y="101">24</text></g>
<g class="c38" transform="translate(3156.5)"><use href="#m"/><text y="53">18</text><text y="101">24</text></g>
<g class="c40" transform="translate(3329.1)"><use href="#m"/><text y="53">19</text><text y="101">24</text></g>
<g class="c42" transform="translate(3501.7)"><use href="#m"/><text y="53">20</text><text y="101">24</text></g>
<g class="c44" transform="translate(3674.3)"><use href="#m"/><text y="53">21</text><text y="101">24</text></g>
<g class="c46" transform="translate(3846.8)"><use href="#m"/><text y="53">22</text><text y="101">24</text></g>
<g class="c48" transform="translate(4019.4)"><use href="#m"/><text y="53">23</text><text y="101">24</text></g>
<g class="c50" transform="translate(4192)"><use href="#m"/><text y="53">24</text><text y="101">24</text></g>
</g>
<g id="row-25" transform="translate(0,2780)">
<g class="c0" transform="translate(50)"><use href="#m"/><text y="53">0</text><text y="101">25</text></g>
<g class="c2" transform="translate(215.7)"><use href="#m"/><text y="53">1</text><text y="101">25</text></g>
<g class="c4" transform="translate(381.4)"><use href="#m"/><text y="53">2</text><text y="101">25</text></g>
<g class="c6" transform="translate(547)"><use href="#m"/><text y="53">3</text><text y="101">25</text></g>
<g class="c8" transform="translate(712.7)"><use href="#m"/><text y="53">4</text><text y="101">25</text></g>
<g class="c10" transform="translate(878.4)"><use href="#m"/><text y="53">5</text><text y="101">25</text></g>
<g class="c12" transform="translate(1044.1)"><use href="#m"/><text y="53">6</text><text y="101">25</text></g>
<g class="c14" transform="translate(1209.8)"><use href="#m"/><text y="53">7</text><text y="101">25</text></g>
<g class="c16" transform="translate(1375.4)"><use href="#m"/><text y="53">8</text><text y="101">25</text></g>
<g class="c18" transform="translate(1541.1)"><use href="#m"/><text y="53">9</text><text y="101">25</text></g>
<g class="c20" transform="translate(1706.8)"><use href="#m"/><text y="53">10</text><text y="101">25</text></g>
<g class="c22" transform="translate(1872.5)"><use href="#m"/><text y="53">11</text><text y="101">25</text></g>
<g class="c24" transform="translate(2038.2)"><use href="#m"/><text y="53">12</text><text y="101">25</text></g>
<g class="c26" transform="translate(2203.8)"><use href="#m"/><text y="53">13</text><text y="101">25</text></g>
<g class="c28" transform="translate(2369.5)"><use href="#m"/><text y="53">14</text><text y="101">25</text></g>
<g class="c30" transform="translate(2535.2)"><use href="#m"/><text y="53">15</text><text y="101">25</text></g>
<g class="c32" transform="translate(2700.9)"><use href="#m"/><text y="53">16</text><text y="101">25</text></g>
<g class="c34" transform="translate(2866.6)"><use href="#m"/><text y="53">17</text><text y="101">25</text></g>
<g class="c36" transform="translate(3032.2)"><use href="#m"/><text y="53">18</text><text y="101">25</text></g>
<g class="c38" transform="translate(3197.9)"><use href="#m"/><text y="53">19</text><text y="101">25</text></g>
<g class="c40" transform="translate(3363.6)"><use href="#m"/><text y="53">20</text><text y="101">25</text></g>
<g class="c42" transform="translate(3529.3)"><use href="#m"/><text y="53">21</text><text y="101">25</text></g>
<g class="c44" transform="translate(3695)"><use href="#m"/><text y="53">22</text><text y="101">25</text></g>
<g class="c46" transform="translate(3860.6)"><use href="#m"/><text y="53">23</text><text y="101">25</text></g>
<g class="c48" transform="translate(4026.3)"><use href="#m"/><text y="53">24</text><text y="101">25</text></g>
<g class="c50" transform="translate(4192)"><use href="#m"/><text y="53">25</text><text y="101">25</text></g>
</g>
</g>
</svg>
